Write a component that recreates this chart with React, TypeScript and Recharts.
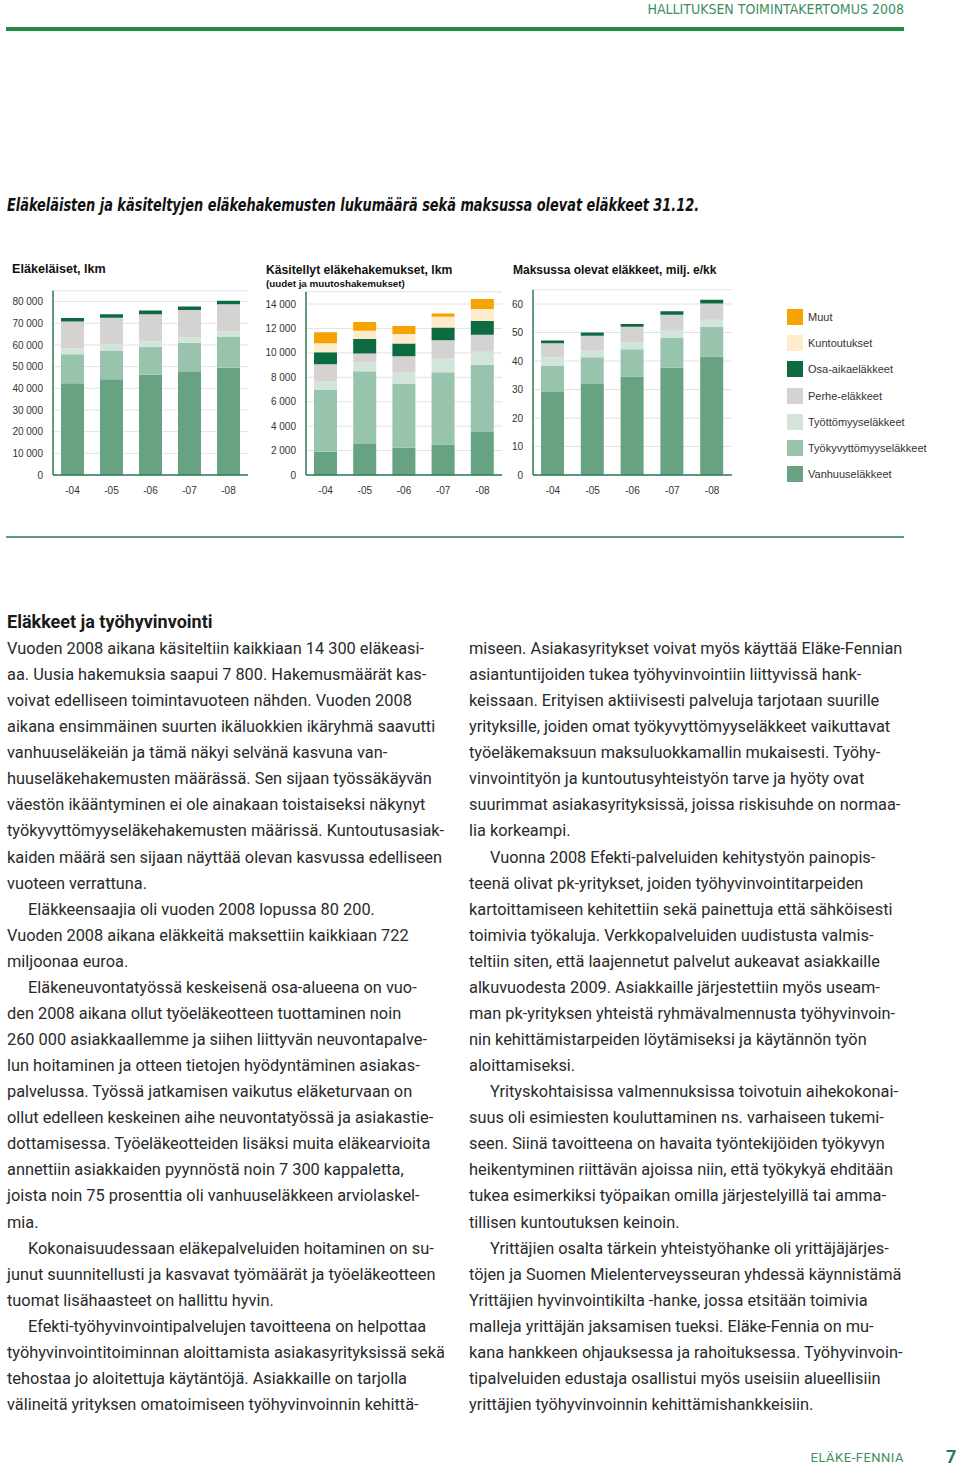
import { Bar, BarChart, CartesianGrid, XAxis, YAxis } from "recharts";

const years = ["-04", "-05", "-06", "-07", "-08"];

// Eläkeläiset, lkm
const elakVanhuus = [42300, 44200, 46300, 47500, 49500];
const elakTyokyv = [13400, 13200, 12900, 13500, 14200];
const elakTyott = [2800, 2900, 2500, 2600, 2500];
const elakPerhe = [12300, 12300, 12500, 12500, 12600];
const elakOsa = [1600, 1600, 1700, 1600, 1600];

// Käsitellyt eläkehakemukset, lkm
const hakVanhuus = [1900, 2540, 2240, 2490, 3530];
const hakTyokyv = [5100, 5960, 5250, 5930, 5500];
const hakTyott = [700, 710, 900, 1120, 1070];
const hakPerhe = [1370, 740, 1340, 1500, 1390];
const hakOsa = [980, 1180, 1040, 1040, 1120];
const hakKunt = [740, 680, 770, 880, 990];
const hakMuut = [900, 710, 660, 270, 820];

// Maksussa olevat eläkkeet, milj. e/kk
const maksVanhuus = [29.1, 31.9, 34.6, 37.6, 41.6];
const maksTyokyv = [9.3, 9.4, 9.5, 10.5, 10.3];
const maksTyott = [2.9, 2.4, 2.5, 2.5, 2.6];
const maksPerhe = [4.9, 5.2, 5.4, 5.6, 5.7];
const maksOsa = [1.0, 1.1, 1.0, 1.3, 1.3];

const elakTicks = [0, 10000, 20000, 30000, 40000, 50000, 60000, 70000, 80000];
const hakTicks = [0, 2000, 4000, 6000, 8000, 10000, 12000, 14000];
const maksTicks = [0, 10, 20, 30, 40, 50, 60];

const seriesInfo = [
  { key: "muut", name: "Muut", color: "#f4a300" },
  { key: "kunt", name: "Kuntoutukset", color: "#fdeccb" },
  { key: "osa", name: "Osa-aikaeläkkeet", color: "#0c6b40" },
  { key: "perhe", name: "Perhe-eläkkeet", color: "#d5d3d2" },
  { key: "tyott", name: "Työttömyyseläkkeet", color: "#d3e5da" },
  { key: "tyokyv", name: "Työkyvyttömyyseläkkeet", color: "#98c3ac" },
  { key: "vanhuus", name: "Vanhuuseläkkeet", color: "#67a283" }
];

const stackOrder = ["vanhuus", "tyokyv", "tyott", "perhe", "osa", "kunt", "muut"];

const leftLines = [
  "Vuoden 2008 aikana käsiteltiin kaikkiaan 14 300 eläkeasi-",
  "aa. Uusia hakemuksia saapui 7 800. Hakemusmäärät kas-",
  "voivat edelliseen toimintavuoteen nähden. Vuoden 2008",
  "aikana ensimmäinen suurten ikäluokkien ikäryhmä saavutti",
  "vanhuuseläkeiän ja tämä näkyi selvänä kasvuna van-",
  "huuseläkehakemusten määrässä. Sen sijaan työssäkäyvän",
  "väestön ikääntyminen ei ole ainakaan toistaiseksi näkynyt",
  "työkyvyttömyyseläkehakemusten määrissä. Kuntoutusasiak-",
  "kaiden määrä sen sijaan näyttää olevan kasvussa edelliseen",
  "vuoteen verrattuna.",
  ">Eläkkeensaajia oli vuoden 2008 lopussa 80 200.",
  "Vuoden 2008 aikana eläkkeitä maksettiin kaikkiaan 722",
  "miljoonaa euroa.",
  ">Eläkeneuvontatyössä keskeisenä osa-alueena on vuo-",
  "den 2008 aikana ollut työeläkeotteen tuottaminen noin",
  "260 000 asiakkaallemme ja siihen liittyvän neuvontapalve-",
  "lun hoitaminen ja otteen tietojen hyödyntäminen asiakas-",
  "palvelussa. Työssä jatkamisen vaikutus eläketurvaan on",
  "ollut edelleen keskeinen aihe neuvontatyössä ja asiakastie-",
  "dottamisessa. Työeläkeotteiden lisäksi muita eläkearvioita",
  "annettiin asiakkaiden pyynnöstä noin 7 300 kappaletta,",
  "joista noin 75 prosenttia oli vanhuuseläkkeen arviolaskel-",
  "mia.",
  ">Kokonaisuudessaan eläkepalveluiden hoitaminen on su-",
  "junut suunnitellusti ja kasvavat työmäärät ja työeläkeotteen",
  "tuomat lisähaasteet on hallittu hyvin.",
  ">Efekti-työhyvinvointipalvelujen tavoitteena on helpottaa",
  "työhyvinvointitoiminnan aloittamista asiakasyrityksissä sekä",
  "tehostaa jo aloitettuja käytäntöjä. Asiakkaille on tarjolla",
  "välineitä yrityksen omatoimiseen työhyvinvoinnin kehittä-"
];

const rightLines = [
  "miseen. Asiakasyritykset voivat myös käyttää Eläke-Fennian",
  "asiantuntijoiden tukea työhyvinvointiin liittyvissä hank-",
  "keissaan. Erityisen aktiivisesti palveluja tarjotaan suurille",
  "yrityksille, joiden omat työkyvyttömyyseläkkeet vaikuttavat",
  "työeläkemaksuun maksuluokkamallin mukaisesti. Työhy-",
  "vinvointityön ja kuntoutusyhteistyön tarve ja hyöty ovat",
  "suurimmat asiakasyrityksissä, joissa riskisuhde on normaa-",
  "lia korkeampi.",
  ">Vuonna 2008 Efekti-palveluiden kehitystyön painopis-",
  "teenä olivat pk-yritykset, joiden työhyvinvointitarpeiden",
  "kartoittamiseen kehitettiin sekä painettuja että sähköisesti",
  "toimivia työkaluja. Verkkopalveluiden uudistusta valmis-",
  "teltiin siten, että laajennetut palvelut aukeavat asiakkaille",
  "alkuvuodesta 2009. Asiakkaille järjestettiin myös useam-",
  "man pk-yrityksen yhteistä ryhmävalmennusta työhyvinvoin-",
  "nin kehittämistarpeiden löytämiseksi ja käytännön työn",
  "aloittamiseksi.",
  ">Yrityskohtaisissa valmennuksissa toivotuin aihekokonai-",
  "suus oli esimiesten kouluttaminen ns. varhaiseen tukemi-",
  "seen. Siinä tavoitteena on havaita työntekijöiden työkyvyn",
  "heikentyminen riittävän ajoissa niin, että työkykyä ehditään",
  "tukea esimerkiksi työpaikan omilla järjestelyillä tai amma-",
  "tillisen kuntoutuksen keinoin.",
  ">Yrittäjien osalta tärkein yhteistyöhanke oli yrittäjäjärjes-",
  "töjen ja Suomen Mielenterveysseuran yhdessä käynnistämä",
  "Yrittäjien hyvinvointikilta -hanke, jossa etsitään toimivia",
  "malleja yrittäjän jaksamisen tueksi. Eläke-Fennia on mu-",
  "kana hankkeen ohjauksessa ja rahoituksessa. Työhyvinvoin-",
  "tipalveluiden edustaja osallistui myös useisiin alueellisiin",
  "yrittäjien työhyvinvoinnin kehittämishankkeisiin."
];

const elakData = years.map((year, i) => ({
  year,
  vanhuus: elakVanhuus[i],
  tyokyv: elakTyokyv[i],
  tyott: elakTyott[i],
  perhe: elakPerhe[i],
  osa: elakOsa[i]
}));

const hakData = years.map((year, i) => ({
  year,
  vanhuus: hakVanhuus[i],
  tyokyv: hakTyokyv[i],
  tyott: hakTyott[i],
  perhe: hakPerhe[i],
  osa: hakOsa[i],
  kunt: hakKunt[i],
  muut: hakMuut[i]
}));

const maksData = years.map((year, i) => ({
  year,
  vanhuus: maksVanhuus[i],
  tyokyv: maksTyokyv[i],
  tyott: maksTyott[i],
  perhe: maksPerhe[i],
  osa: maksOsa[i]
}));

// non-breaking space so the tick text is not wrapped
const formatThousands = (value: number) => String(value).replace(/\B(?=(\d{3})+(?!\d))/g, "\u00a0");

const axisGreen = "#2f7a56";
const chartFont = "'Liberation Sans', Arial, sans-serif";

interface StackChartProps {
  data: Record<string, string | number>[];
  keys: string[];
  domain: [number, number];
  ticks: number[];
  left: number;
  width: number;
  yWidth: number;
  marginLeft: number;
  marginRight: number;
  marginTop: number;
}

function StackChart({ data, keys, domain, ticks, left, width, yWidth, marginLeft, marginRight, marginTop }: StackChartProps) {
  return (
    <div style={{ position: "absolute", left, top: 280 }}>
      <BarChart
        width={width}
        height={230}
        data={data}
        margin={{ top: marginTop, right: marginRight, left: marginLeft, bottom: 5 }}
        barSize={23}
      >
        <CartesianGrid vertical={false} stroke="#e2e2e2" strokeWidth={1} />
        <XAxis
          dataKey="year"
          height={30}
          tickLine={false}
          tickSize={0}
          tickMargin={12}
          axisLine={{ stroke: axisGreen, strokeWidth: 1.5 }}
          tick={{ fontSize: 10, fill: "#333", fontFamily: chartFont }}
        />
        <YAxis
          width={yWidth}
          domain={domain}
          ticks={ticks}
          interval={0}
          tickLine={false}
          tickSize={0}
          tickMargin={10}
          axisLine={{ stroke: axisGreen, strokeWidth: 1.5 }}
          tickFormatter={formatThousands}
          tick={{ fontSize: 10, fill: "#333", fontFamily: chartFont }}
          allowDataOverflow
        />
        {stackOrder
          .filter((key) => keys.includes(key))
          .map((key) => {
            const info = seriesInfo.find((s) => s.key === key)!;
            return (
              <Bar key={key} dataKey={key} name={info.name} stackId="a" fill={info.color} isAnimationActive={false} />
            );
          })}
      </BarChart>
    </div>
  );
}

const bodyFont = "Roboto, 'Noto Sans', sans-serif";

function TextColumn({ lines, x }: { lines: string[]; x: number }) {
  return (
    <>
      {lines.map((line, i) => {
        const indent = line.startsWith(">");
        return (
          <div
            key={i}
            style={{
              position: "absolute",
              left: x + (indent ? 21 : 0),
              top: 636 + i * 26.07,
              height: 26,
              lineHeight: "26px",
              fontSize: 16.35,
              fontFamily: bodyFont,
              color: "#2a2a2a",
              whiteSpace: "nowrap"
            }}
          >
            {indent ? line.slice(1) : line}
          </div>
        );
      })}
    </>
  );
}

export default function App() {
  return (
    <div
      style={{
        position: "absolute",
        left: 0,
        top: 0,
        width: 960,
        height: 1468,
        background: "#fff",
        overflow: "hidden"
      }}
    >
      <div
        style={{
          position: "absolute",
          right: 56,
          top: 0,
          fontSize: 14,
          lineHeight: "18px",
          fontFamily: "'Liberation Sans Narrow', 'DejaVu Sans Condensed', sans-serif",
          color: "#3d8f60",
          whiteSpace: "nowrap"
        }}
      >
        HALLITUKSEN TOIMINTAKERTOMUS 2008
      </div>
      <div style={{ position: "absolute", left: 6, top: 27, width: 898, height: 4, background: "#1f8b45" }} />

      <div
        style={{
          position: "absolute",
          left: 7,
          top: 195,
          fontSize: 17,
          lineHeight: "20px",
          fontWeight: "bold",
          fontStyle: "italic",
          fontFamily: "'Liberation Sans Narrow', 'DejaVu Sans Condensed', sans-serif",
          color: "#111",
          whiteSpace: "nowrap",
          transform: "scaleX(0.845)",
          transformOrigin: "left center"
        }}
      >
        Eläkeläisten ja käsiteltyjen eläkehakemusten lukumäärä sekä maksussa olevat eläkkeet 31.12.
      </div>

      <div style={{ position: "absolute", left: 12, top: 262, fontSize: 12.6, fontWeight: "bold", fontFamily: chartFont, color: "#111", lineHeight: "14px", whiteSpace: "nowrap" }}>
        Eläkeläiset, lkm
      </div>
      <div style={{ position: "absolute", left: 266, top: 263, fontSize: 12.2, fontWeight: "bold", fontFamily: chartFont, color: "#111", lineHeight: "14px", whiteSpace: "nowrap" }}>
        Käsitellyt eläkehakemukset, lkm
      </div>
      <div style={{ position: "absolute", left: 266, top: 278, fontSize: 9.8, fontWeight: "bold", fontFamily: chartFont, color: "#111", lineHeight: "11px", whiteSpace: "nowrap" }}>
        (uudet ja muutoshakemukset)
      </div>
      <div style={{ position: "absolute", left: 513, top: 263, fontSize: 12, fontWeight: "bold", fontFamily: chartFont, color: "#111", lineHeight: "14px", whiteSpace: "nowrap" }}>
        Maksussa olevat eläkkeet, milj. e/kk
      </div>

      <StackChart
        data={elakData}
        keys={["vanhuus", "tyokyv", "tyott", "perhe", "osa"]}
        domain={[0, 85000]}
        ticks={elakTicks}
        left={0}
        width={260}
        yWidth={40}
        marginLeft={13}
        marginRight={12}
        marginTop={10.8}
      />
      <StackChart
        data={hakData}
        keys={stackOrder}
        domain={[0, 15000]}
        ticks={hakTicks}
        left={255}
        width={260}
        yWidth={40}
        marginLeft={11}
        marginRight={13}
        marginTop={11.8}
      />
      <StackChart
        data={maksData}
        keys={["vanhuus", "tyokyv", "tyott", "perhe", "osa"]}
        domain={[0, 65]}
        ticks={maksTicks}
        left={505}
        width={240}
        yWidth={20}
        marginLeft={8}
        marginRight={13}
        marginTop={9.75}
      />

      {seriesInfo.map((s, i) => (
        <div key={s.key} style={{ position: "absolute", left: 787, top: 309 + i * 26.17, height: 16, display: "flex", alignItems: "center" }}>
          <span style={{ display: "inline-block", width: 16, height: 16, background: s.color }} />
          <span style={{ marginLeft: 5, fontSize: 11, fontFamily: chartFont, color: "#333", whiteSpace: "nowrap" }}>{s.name}</span>
        </div>
      ))}

      <div style={{ position: "absolute", left: 6, top: 536, width: 898, height: 1.5, background: "#5f9c7d" }} />

      <div
        style={{
          position: "absolute",
          left: 7,
          top: 611,
          fontSize: 18,
          lineHeight: "22px",
          fontWeight: "bold",
          fontFamily: bodyFont,
          color: "#1a1a1a",
          whiteSpace: "nowrap"
        }}
      >
        Eläkkeet ja työhyvinvointi
      </div>

      <TextColumn lines={leftLines} x={7} />
      <TextColumn lines={rightLines} x={469} />

      <div
        style={{
          position: "absolute",
          right: 56,
          top: 1450,
          fontSize: 13,
          lineHeight: "16px",
          fontFamily: bodyFont,
          letterSpacing: 0.5,
          color: "#3d8f60",
          whiteSpace: "nowrap"
        }}
      >
        ELÄKE-FENNIA
      </div>
      <div
        style={{
          position: "absolute",
          left: 946,
          top: 1447,
          fontSize: 18,
          lineHeight: "20px",
          fontWeight: "bold",
          fontFamily: bodyFont,
          color: "#2c7d4e"
        }}
      >
        7
      </div>
    </div>
  );
}
